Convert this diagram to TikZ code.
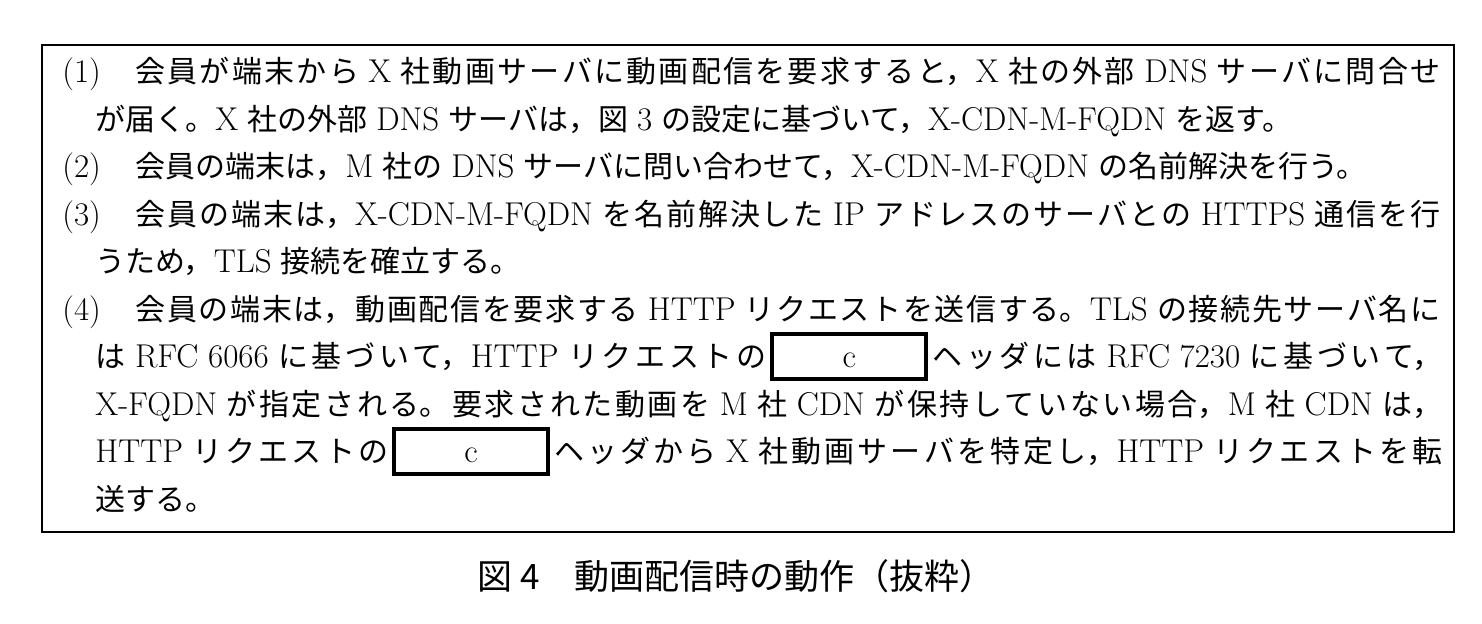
\documentclass[tikz,border=0pt]{standalone}
\usepackage{fontspec}
\newfontfamily\cjk{Noto Sans CJK JP}
\newcommand\J[1]{{\cjk\fontsize{15pt}{18pt}\selectfont #1}}
\newcommand\heavier{\addfontfeatures{FakeBold=0.6}}
\XeTeXlinebreaklocale "ja"
\XeTeXlinebreakskip=0pt plus 3pt
\newskip\myspace
\myspace=4.5pt plus 0.5pt minus 1pt
\newcommand\Cbox{\hspace{2pt}\makebox[0pt][l]{\raisebox{-4.5pt}{\setlength\fboxrule{2pt}\setlength\fboxsep{0pt}\fbox{\rule{0pt}{20.5pt}\rule{75pt}{0pt}}}}\makebox[79pt]{c}\hspace{2pt}}
\newcommand\JLine[2]{\parbox[b]{#1}{\tolerance=10000\relax\parfillskip=0pt\relax\spaceskip=\myspace\relax\noindent #2}}
\newcommand\Plain[1]{\spaceskip=\myspace\relax #1}
\begin{document}
\begin{tikzpicture}[x=0.5pt,y=-0.5pt,
  txt/.style={anchor=base west, inner sep=0pt, font=\fontsize{16.5pt}{18pt}\selectfont\heavier},
  captxt/.style={anchor=center, inner sep=0pt, font=\cjk\fontsize{17.5pt}{18pt}\selectfont},
  framebox/.style={draw, line width=1.1pt}]
\useasboundingbox (0,0) rectangle (1482,624);
\draw[framebox] (42,45) rectangle (1454,532);
\node[txt] (l1) at (62,83) {\JLine{689pt}{\makebox[36.5pt][l]{(1)}\J{会員が端末から} X \J{社動画サーバに動画配信を要求すると，}X \J{社の外部} DNS \J{サーバに問合せ}}};
\node[txt] (l2) at (95,130.5) {\Plain{\J{が届く。}X \J{社の外部} DNS \J{サーバは，図} 3 \J{の設定に基づいて，}X-CDN-M-FQDN \J{を返す。}}};
\node[txt] (l3) at (62,178) {\Plain{\makebox[36.5pt][l]{(2)}\J{会員の端末は，}M \J{社の} DNS \J{サーバに問い合わせて，}X-CDN-M-FQDN \J{の名前解決を行う。}}};
\node[txt] (l4) at (62,225.5) {\JLine{689pt}{\makebox[36.5pt][l]{(3)}\J{会員の端末は，}X-CDN-M-FQDN \J{を名前解決した} IP \J{アドレスのサーバとの} HTTPS \J{通信を行}}};
\node[txt] (l5) at (95,273) {\Plain{\J{うため，}TLS \J{接続を確立する。}}};
\node[txt] (l6) at (62,320.5) {\JLine{689pt}{\makebox[36.5pt][l]{(4)}\J{会員の端末は，動画配信を要求する} HTTP \J{リクエストを送信する。}TLS \J{の接続先サーバ名に}}};
\node[txt] (l7) at (95,368) {\JLine{673.5pt}{\J{は} RFC 6066 \J{に基づいて，}HTTP \J{リクエストの}\Cbox\J{ヘッダには} RFC 7230 \J{に基づいて，}}};
\node[txt] (l8) at (95,415.5) {\JLine{673.5pt}{X-FQDN \J{が指定される。要求された動画を} M \J{社} CDN \J{が保持していない場合，}M \J{社} CDN \J{は，}}};
\node[txt] (l9) at (95,463) {\JLine{673.5pt}{HTTP \J{リクエストの}\Cbox\J{ヘッダから} X \J{社動画サーバを特定し，}HTTP \J{リクエストを転}}};
\node[txt] (l10) at (95,510.5) {\J{送する。}};
\node[captxt] (caption) at (736,576) {図 4　動画配信時の動作（抜粋）};
\end{tikzpicture}
\end{document}
